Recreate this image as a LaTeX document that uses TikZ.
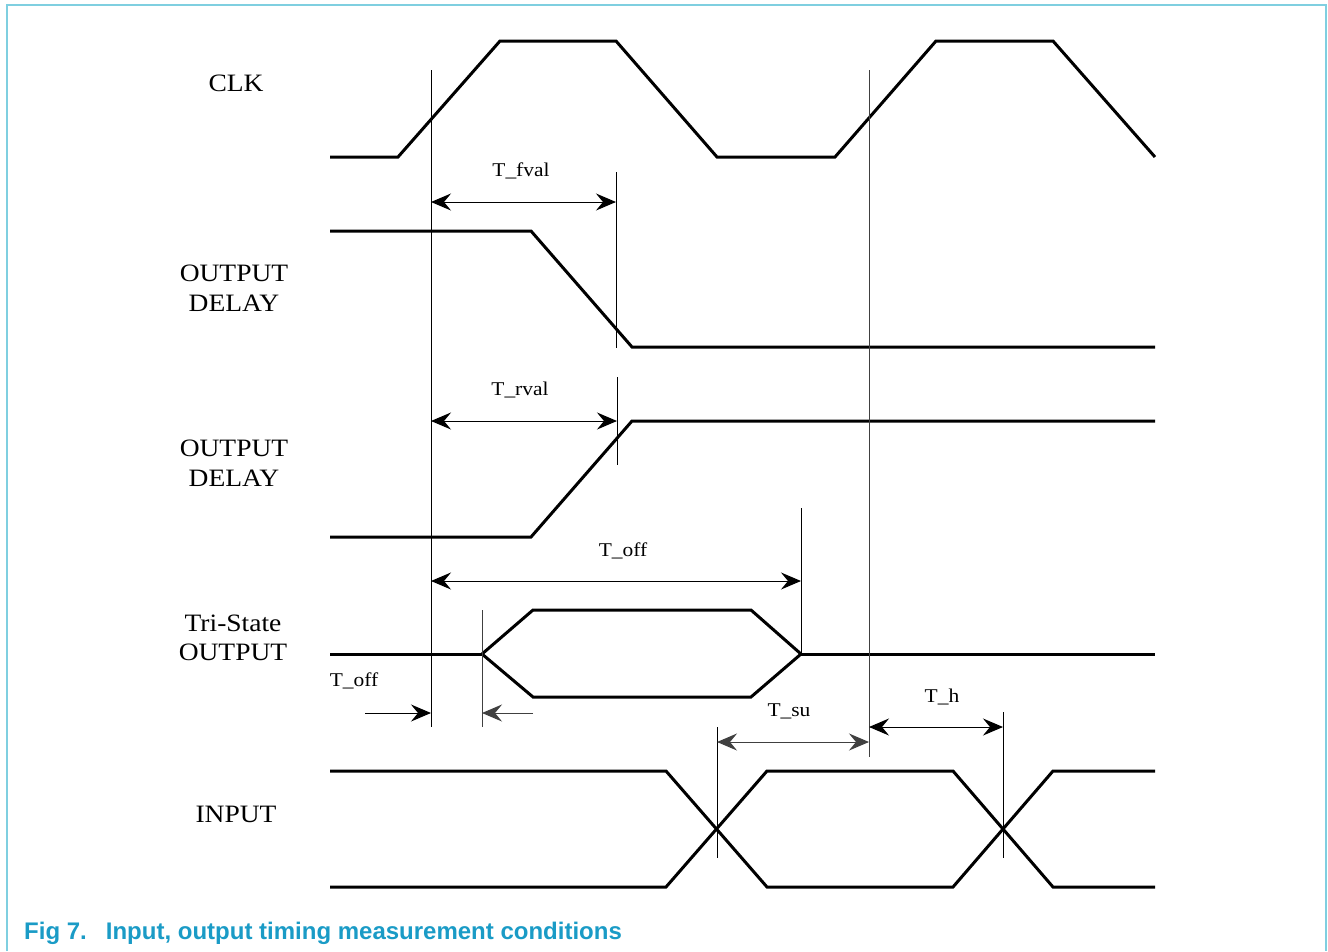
\documentclass[tikz,border=0pt]{standalone}
\usepackage{fontspec}
\setmainfont[FakeStretch=1.1]{Liberation Serif}
\newfontfamily\capfont{Liberation Sans}
\usetikzlibrary{arrows.meta}
\definecolor{framecol}{HTML}{7FCFE0}
\definecolor{captioncol}{HTML}{1A9BC6}
\tikzset{
  wave/.style={line width=3pt, line join=miter},
  guide/.style={line width=1pt},
  dim/.style={line width=1pt,
    {Stealth[length=20pt, width=17pt, inset=7pt]}-{Stealth[length=20pt, width=17pt, inset=7pt]}},
  ptr/.style={line width=1pt, -{Stealth[length=20pt, width=17pt, inset=7pt]}},
  sig/.style={font=\fontsize{25}{29.5}\selectfont, align=center, inner sep=0pt},
  tlabel/.style={font=\fontsize{19.5}{22}\selectfont, inner sep=0pt},
}
\begin{document}
\begin{tikzpicture}[x=1pt, y=-1pt]
  \useasboundingbox (0,0) rectangle (1328,951);
  % frame
  \draw[framecol, line width=2pt] (7,951) -- (7,5) -- (1326,5) -- (1326,951);

  % signal names
  \node[sig] (clk) at (236,83) {CLK};
  \node[sig] (odf) at (234,288) {OUTPUT\\ DELAY};
  \node[sig] (odr) at (234,463) {OUTPUT\\ DELAY};
  \node[sig] (tri) at (233,638) {Tri-State\\ OUTPUT};
  \node[sig] (inp) at (236,814) {INPUT};

  % waveforms
  \draw[wave] (330,157) -- (398,157) -- (500,41) -- (616,41) -- (717,157)
              -- (835,157) -- (936,41) -- (1053,41) -- (1155,157);
  \draw[wave] (330,231) -- (531,231) -- (632,347) -- (1155,347);
  \draw[wave] (330,537) -- (531,537) -- (632,421) -- (1155,421);
  \draw[wave] (330,654) -- (482,654);
  \draw[wave] (482,654) -- (533,610) -- (751,610) -- (801,654)
              -- (751,697) -- (533,697) -- (482,654) -- (533,610);
  \draw[wave] (801,654) -- (1155,654);
  \draw[wave] (330,771) -- (666,771) -- (767,887) -- (953,887) -- (1053,771) -- (1155,771);
  \draw[wave] (330,887) -- (666,887) -- (767,771) -- (953,771) -- (1053,887) -- (1155,887);

  % guide lines
  \coordinate (clkA) at (431,70);   \coordinate (clkAb) at (431,727);
  \coordinate (clkB) at (869,70);   \coordinate (clkBb) at (869,757);
  \coordinate (fv) at (616,172);    \coordinate (fvb) at (616,348);
  \coordinate (rv) at (617,377);    \coordinate (rvb) at (617,465);
  \coordinate (of) at (801,508);    \coordinate (ofb) at (801,654);
  \coordinate (on) at (482,610);    \coordinate (onb) at (482,727);
  \coordinate (su) at (717,727);    \coordinate (sub) at (717,858);
  \coordinate (ho) at (1003,712);   \coordinate (hob) at (1003,858);
  \draw[guide] (clkA) -- (clkAb);
  \draw[guide, black!75] (clkB) -- (clkBb);
  \draw[guide] (fv) -- (fvb);
  \draw[guide] (rv) -- (rvb);
  \draw[guide] (of) -- (ofb);
  \draw[guide, black!75] (on) -- (onb);
  \draw[guide] (su) -- (sub);
  \draw[guide] (ho) -- (hob);

  % timing arrows
  \coordinate (fvL) at (431,202);  \coordinate (fvR) at (616,202);
  \coordinate (rvL) at (431,421);  \coordinate (rvR) at (617,421);
  \coordinate (ofL) at (431,581);  \coordinate (ofR) at (801,581);
  \coordinate (suL) at (717,742);  \coordinate (suR) at (869,742);
  \coordinate (hoL) at (869,727);  \coordinate (hoR) at (1003,727);
  \draw[dim] (fvL) -- (fvR);
  \draw[dim] (rvL) -- (rvR);
  \draw[dim] (ofL) -- (ofR);
  \draw[dim, black!75] (suL) -- (suR);
  \draw[dim] (hoL) -- (hoR);
  \coordinate (onA) at (365,713);  \coordinate (onAe) at (431,713);
  \coordinate (onB) at (533,713);  \coordinate (onBe) at (482,713);
  \draw[ptr] (onA) -- (onAe);
  \draw[ptr, black!75] (onB) -- (onBe);

  \node[tlabel] (fvl) at (521,171) {T\_fval};
  \node[tlabel] (rvl) at (520,390) {T\_rval};
  \node[tlabel] (ofl) at (623,551) {T\_off};
  \node[tlabel] (onl) at (354,681) {T\_off};
  \node[tlabel] (sul) at (789,711) {T\_su};
  \node[tlabel] (hol) at (942,697) {T\_h};

  % caption
  \node[anchor=base west, inner sep=0pt, text=captioncol,
        font=\capfont\bfseries\fontsize{24}{27}\selectfont] (cap) at (24,939)
        {Fig 7.\hspace{19pt}Input, output timing measurement conditions};
\end{tikzpicture}
\end{document}
